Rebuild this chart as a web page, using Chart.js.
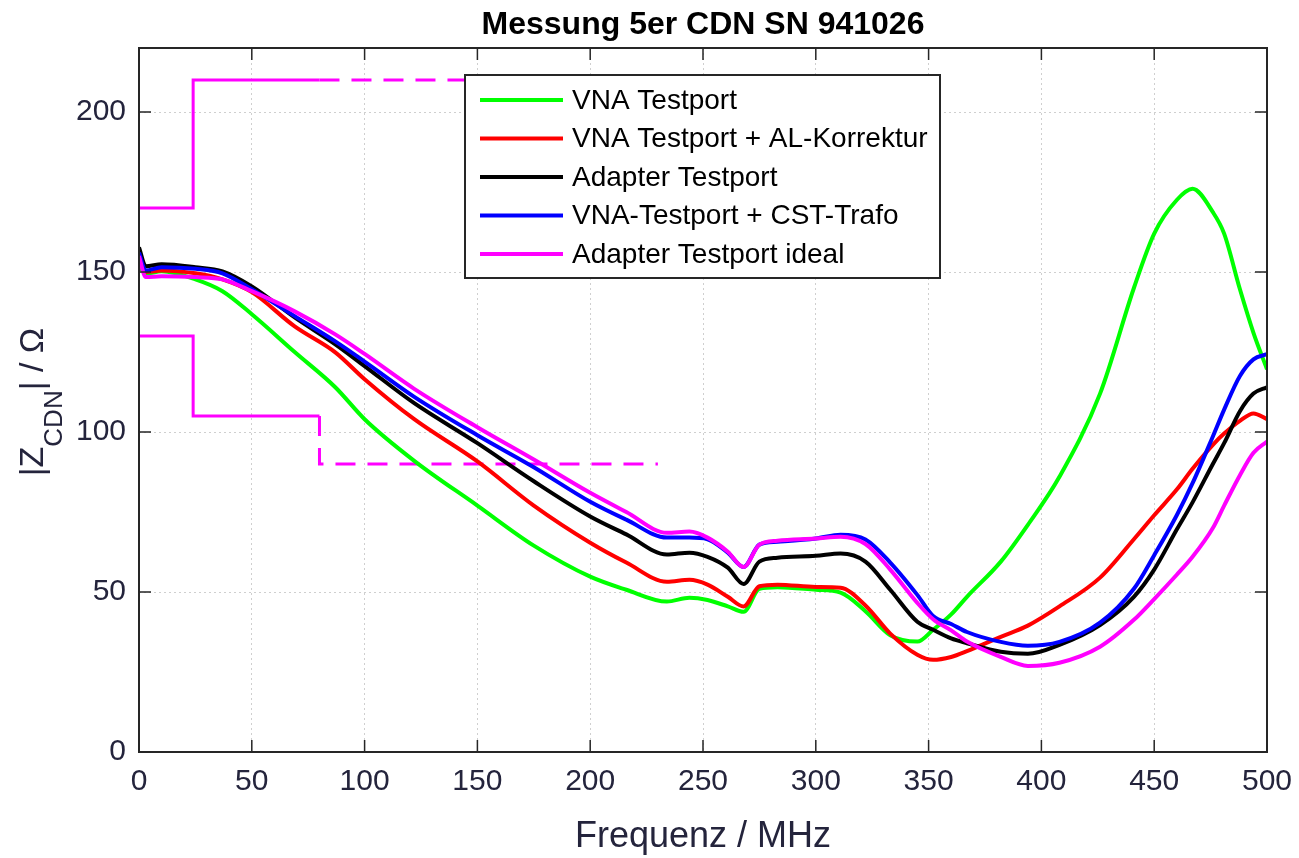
<!DOCTYPE html>
<html>
<head>
<meta charset="utf-8">
<script src="https://cdn.jsdelivr.net/npm/chart.js@4/dist/chart.umd.min.js"></script>
<style>
  html, body { margin: 0; background: #fff; }
  canvas { display: block; }
</style>
</head>
<body>
<canvas id="chart" width="1299" height="858"></canvas>
<script>
const freq = [0, 3, 10, 25, 37, 50, 69, 87, 100, 122, 150, 175, 200, 216, 234, 244, 252, 261, 268, 275,
  283, 300, 311, 322, 333, 345, 352, 360, 367, 382, 394, 408, 426, 441, 450, 460, 467, 476, 481, 488, 494, 500];

const vnaTestport = [152, 149.5, 150.2, 147.7, 144, 136.8, 125, 114, 104, 91, 77, 64.5, 54.8, 50.7, 47, 48.2, 47.5, 45.5, 43.8, 51,
  51.5, 50.7, 49.8, 44, 36.5, 34.5, 38.2, 43, 48.5, 59.5, 71, 86, 112, 145, 162, 172.5, 176, 168.7, 162, 144.6, 131, 119.6];
const vnaAlKorrektur = [154, 150, 150.5, 149.6, 147.7, 143.7, 133, 124.9, 116.5, 104, 90.8, 77, 65.4, 59.2, 53.2, 53.8, 52.3, 48.5, 45.5, 51.8,
  52.3, 51.6, 51.3, 45.8, 37, 30.4, 28.8, 29.7, 31.5, 36, 39.5, 45.5, 54.5, 66.5, 74, 82, 88.5, 96, 99.5, 103.5, 105.8, 104];
const adapterTestport = [157.7, 151.8, 152.4, 151.5, 150.2, 145.5, 135.8, 127.4, 120.6, 109, 96.5, 84.6, 73.6, 68, 61.7, 62.3, 61, 57.6, 52.5, 59.5,
  60.7, 61.3, 62, 59.5, 50.7, 40.7, 38.2, 35.5, 34, 31.3, 30.7, 33.5, 39.7, 48.5, 57, 69.5, 78, 90, 96.5, 106.5, 112, 114];
const vnaCstTrafo = [156, 150.5, 151.5, 151, 149.6, 144.6, 136.2, 128.3, 122, 111, 99, 89, 78.2, 72.6, 67, 67, 66.5, 62.3, 57.8, 64.8,
  65.7, 66.7, 67.9, 66.4, 59.2, 49.1, 42.5, 40, 37.5, 34.4, 33.2, 34.4, 40.4, 51, 61.5, 74, 84, 98.6, 107, 117.5, 122.7, 124.3];
const adapterIdeal = [155, 148.4, 148.7, 148.4, 147.7, 144, 137.7, 130.5, 124.4, 113.5, 101.5, 91.4, 81, 75, 68.5, 68.9, 67, 62.6, 57.8, 64.8,
  66, 66.7, 67.3, 65, 57, 46.6, 41.5, 38, 34.5, 29.7, 26.9, 27.9, 32.9, 41.3, 47.8, 55.4, 61, 70, 77, 86.5, 93.5, 97];

// Toleranzgrenzen
const upperSolidX = [0, 24, 24, 80];
const upperSolidY = [170, 170, 210, 210];
const upperDashX = [80, 230];
const upperDashY = [210, 210];
const lowerSolidX = [0, 24, 24, 80];
const lowerSolidY = [130, 130, 105, 105];
const lowerDashX = [80, 80, 230];
const lowerDashY = [105, 90, 90];

const xTicks = [0, 50, 100, 150, 200, 250, 300, 350, 400, 450, 500];
const yTicks = [0, 50, 100, 150, 200];

const chartTitle = 'Messung 5er CDN SN 941026';
const xTitle = 'Frequenz / MHz';
const labelColor = '#24243c';
const axisColor = '#262626';
const fontFamily = '"Liberation Sans", Arial, Helvetica, sans-serif';

const toXY = (xs, ys) => xs.map((x, i) => ({ x, y: ys[i] }));

const curve = (label, values, color, order) => ({
  label,
  data: toXY(freq, values),
  borderColor: color,
  backgroundColor: color,
  borderWidth: 4,
  pointRadius: 0,
  cubicInterpolationMode: 'monotone',
  fill: false,
  order
});

const limit = (xs, ys, dash) => ({
  label: '',
  data: toXY(xs, ys),
  borderColor: '#ff00ff',
  borderWidth: 3,
  borderDash: dash,
  pointRadius: 0,
  tension: 0,
  fill: false,
  order: 10
});

const decor = {
  id: 'decor',
  beforeDraw(chart) {
    const ctx = chart.ctx;
    ctx.save();
    ctx.fillStyle = '#fff';
    ctx.fillRect(0, 0, chart.width, chart.height);
    ctx.restore();
  },
  afterDatasetsDraw(chart) {
    const { ctx, chartArea: a, scales: { x, y } } = chart;
    ctx.save();
    // Rahmen und innenliegende Ticks
    ctx.strokeStyle = axisColor;
    ctx.lineWidth = 2;
    ctx.strokeRect(a.left, a.top, a.right - a.left, a.bottom - a.top);
    ctx.lineWidth = 1.5;
    ctx.beginPath();
    xTicks.forEach(v => {
      const p = x.getPixelForValue(v);
      ctx.moveTo(p, a.bottom); ctx.lineTo(p, a.bottom - 12);
      ctx.moveTo(p, a.top); ctx.lineTo(p, a.top + 12);
    });
    yTicks.forEach(v => {
      const p = y.getPixelForValue(v);
      ctx.moveTo(a.left, p); ctx.lineTo(a.left + 12, p);
      ctx.moveTo(a.right, p); ctx.lineTo(a.right - 12, p);
    });
    ctx.stroke();

    // Legende
    const lx = 465, ly = 75, lw = 475, lh = 203;
    ctx.fillStyle = '#fff';
    ctx.fillRect(lx, ly, lw, lh);
    ctx.lineWidth = 2;
    ctx.strokeStyle = axisColor;
    ctx.strokeRect(lx, ly, lw, lh);
    ctx.font = '28px ' + fontFamily;
    ctx.textBaseline = 'middle';
    ctx.textAlign = 'left';
    chart.data.datasets.filter(d => d.label).forEach((d, i) => {
      const yy = ly + 25 + i * 38.5;
      ctx.strokeStyle = d.borderColor;
      ctx.lineWidth = 4;
      ctx.beginPath();
      ctx.moveTo(480, yy);
      ctx.lineTo(563, yy);
      ctx.stroke();
      ctx.fillStyle = '#000';
      ctx.fillText(d.label, 572, yy + 1);
    });
    ctx.restore();
  },
  afterDraw(chart) {
    const { ctx, chartArea: a } = chart;
    const cx = (a.left + a.right) / 2;
    ctx.save();
    ctx.fillStyle = '#000';
    ctx.textAlign = 'center';
    ctx.textBaseline = 'alphabetic';
    ctx.font = 'bold 32px ' + fontFamily;
    ctx.fillText(chartTitle, cx, 34);

    ctx.fillStyle = labelColor;
    ctx.font = '36px ' + fontFamily;
    ctx.fillText(xTitle, cx, 847);

    // y-Achsentitel mit Index
    const big = '34px ' + fontFamily, small = '26px ' + fontFamily;
    const parts = [['|Z', big, 0], ['CDN', small, 19], ['| / \u03a9', big, 0]];
    let total = 0;
    parts.forEach(p => { ctx.font = p[1]; total += ctx.measureText(p[0]).width; });
    ctx.translate(43, (a.top + a.bottom) / 2 + 2 + total / 2);
    ctx.rotate(-Math.PI / 2);
    ctx.textAlign = 'left';
    let pos = 0;
    parts.forEach(p => {
      ctx.font = p[1];
      ctx.fillText(p[0], pos, p[2]);
      pos += ctx.measureText(p[0]).width;
    });
    ctx.restore();
  }
};

new Chart(document.getElementById('chart'), {
  type: 'line',
  data: {
    datasets: [
      curve('VNA Testport', vnaTestport, '#00ff00', 5),
      curve('VNA Testport + AL-Korrektur', vnaAlKorrektur, '#ff0000', 4),
      curve('Adapter Testport', adapterTestport, '#000000', 3),
      curve('VNA-Testport + CST-Trafo', vnaCstTrafo, '#0000ff', 2),
      curve('Adapter Testport ideal', adapterIdeal, '#ff00ff', 1),
      limit(upperSolidX, upperSolidY, []),
      limit(upperDashX, upperDashY, [20, 12]),
      limit(lowerSolidX, lowerSolidY, []),
      limit(lowerDashX, lowerDashY, [20, 12])
    ]
  },
  options: {
    responsive: false,
    animation: false,
    devicePixelRatio: 1,
    layout: { padding: { top: 48, right: 32, left: 0, bottom: 0 } },
    plugins: {
      legend: { display: false },
      title: { display: false },
      tooltip: { enabled: false }
    },
    scales: {
      x: {
        type: 'linear',
        min: 0,
        max: 500,
        afterBuildTicks: s => { s.ticks = xTicks.map(v => ({ value: v })); },
        afterFit: s => { s.height = 106; s.paddingLeft = 0; s.paddingRight = 0; },
        grid: { color: '#cfcfcf', lineWidth: 1, drawTicks: false },
        border: { display: false, dash: [2, 3] },
        ticks: { color: labelColor, font: { size: 30, family: fontFamily }, padding: 12, maxRotation: 0, autoSkip: false }
      },
      y: {
        type: 'linear',
        min: 0,
        max: 220,
        afterBuildTicks: s => { s.ticks = yTicks.map(v => ({ value: v })); },
        afterFit: s => { s.width = 139; s.paddingTop = 0; s.paddingBottom = 0; },
        grid: { color: '#cfcfcf', lineWidth: 1, drawTicks: false },
        border: { display: false, dash: [2, 3] },
        ticks: { color: labelColor, font: { size: 30, family: fontFamily }, padding: 13 }
      }
    }
  },
  plugins: [decor]
});
</script>
</body>
</html>
